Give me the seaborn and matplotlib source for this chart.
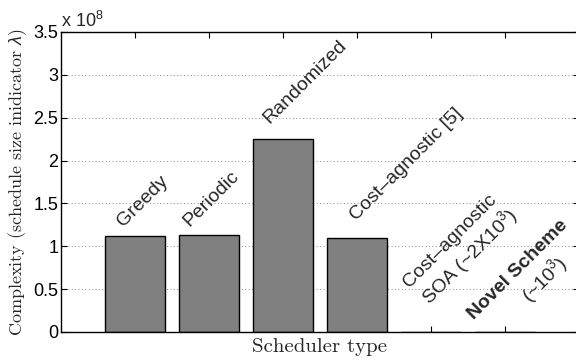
import matplotlib
matplotlib.use("Agg")
import matplotlib.pyplot as plt
import seaborn as sns
import pandas as pd
import numpy as np

# ---- data ----
schedulers = ["Greedy", "Periodic", "Randomized", "Cost-agnostic [5]",
              "Cost-agnostic SOA", "Novel Scheme"]
complexity = [1.125e8, 1.13e8, 2.255e8, 1.10e8, 2.0e3, 1.0e3]
ytick_values = [0, 0.5, 1, 1.5, 2, 2.5, 3, 3.5]
ytick_labels = ["0", "0.5", "1", "1.5", "2", "2.5", "3", "3.5"]
scale_label = "x 10$^8$"

# bar annotation lines: (bar index, text, bold, dx px, dy px)
annotations = [
    (0, "Greedy", False, -12, 8),
    (1, "Periodic", False, -20, 8),
    (2, "Randomized", False, -14, 15),
    (3, "Cost\u2013agnostic [5]", False, -1, 17),
    (4, "Cost\u2013agnostic", False, -22, 44),
    (4, "SOA (~2X10$^3$)", False, -2, 27),
    (5, "Novel Scheme", True, -31, 12),
    (5, "(~10$^3$)", False, 24, 29),
]

df = pd.DataFrame({"scheduler": schedulers, "complexity": complexity})

sns.set_style("ticks")
plt.rcParams["font.family"] = ["Liberation Sans", "DejaVu Sans"]
plt.rcParams["mathtext.fontset"] = "custom"
plt.rcParams["mathtext.rm"] = "Liberation Sans"
plt.rcParams["mathtext.it"] = "Liberation Sans:italic"
plt.rcParams["mathtext.bf"] = "Liberation Sans:bold"

fig = plt.figure(figsize=(5.76, 3.61), dpi=100)
ax = fig.add_axes([61 / 576, 29 / 361, 518 / 576, 300 / 361])

sns.barplot(data=df, x="scheduler", y="complexity", ax=ax, color="#808080",
            saturation=1, width=0.8, edgecolor="black", linewidth=1.0)

ax.set_xlim(-1, 6)
ax.set_ylim(0, 3.5e8)
ax.set_yticks([v * 1e8 for v in ytick_values])
ax.set_yticklabels(ytick_labels, fontsize=13)
ax.set_xticks(range(len(schedulers)))
ax.set_xticklabels([])
ax.tick_params(axis="both", direction="in", length=4, width=0.8,
               top=True, right=True, colors="black")
ax.tick_params(axis="y", pad=2)
for s in ax.spines.values():
    s.set_visible(True)
    s.set_linewidth(1.0)
    s.set_color("black")
ax.yaxis.grid(True, linestyle=(0, (1, 2.5)), color="#888888", linewidth=0.7)
ax.set_axisbelow(True)

ax.set_xlabel("Scheduler type", family="cmr10", fontsize=15, labelpad=1)
ax.set_ylabel(r"Complexity (schedule size inidicator $\lambda$)", family="cmr10",
              fontsize=13, labelpad=3)

ax.text(0.0, 1.005, scale_label, transform=ax.transAxes, fontsize=13,
        ha="left", va="bottom")

for idx, txt, bold, dx, dy in annotations:
    ax.annotate(txt, xy=(idx, complexity[idx]), xytext=(dx, dy),
                textcoords="offset pixels", rotation=45, rotation_mode="anchor",
                ha="left", va="baseline", fontsize=14,
                fontweight="bold" if bold else "normal")

fig.savefig("out.png", dpi=100)
